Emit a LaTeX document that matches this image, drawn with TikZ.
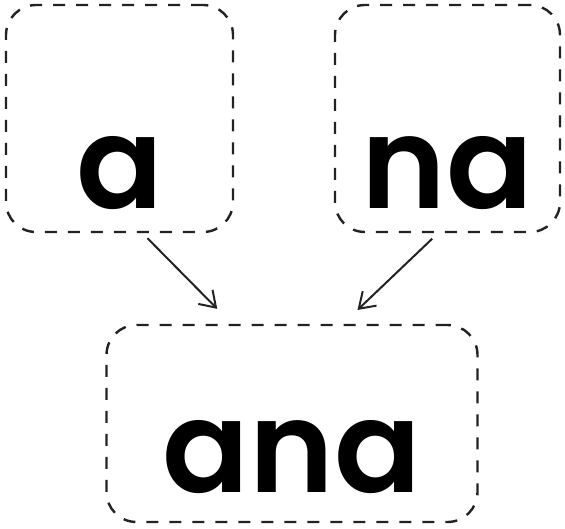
\documentclass[tikz,border=0pt]{standalone}
\usepackage{fontspec}
\setmainfont{Poppins}[UprightFont={* SemiBold}]
\usetikzlibrary{arrows.meta, positioning}
\definecolor{edgegray}{HTML}{222222}
\tikzset{
  piece/.style={rectangle, rounded corners=30pt, draw=edgegray, line width=2.4pt,
                dash pattern=on 12pt off 11pt, font=\fontsize{128}{128}\selectfont,
                text depth=0pt, inner sep=0pt},
  arrow/.style={-{Straight Barb[length=15pt, width=20pt, line width=2pt]}, line width=2pt, edgegray},
}
\begin{document}
\begin{tikzpicture}[x=1pt, y=1pt]
  \useasboundingbox (0,0) rectangle (565,-529);

  % --- Parts ---
  \node[piece, minimum width=227pt, minimum height=227pt, text height=180pt] (left) at (119.5,-118.5) {a};
  \node[piece, minimum width=225pt, minimum height=227pt, text height=180pt, right=99.6pt of left] (right) {na};

  % --- Joined word ---
  \node[piece, minimum width=371pt, minimum height=197pt, text height=137pt] (word) at (292,-423.5) {ana};

  % --- Arrows ---
  \draw[arrow, shorten <=7pt, shorten >=21pt] ([xshift=23pt]left.south) -- ([xshift=-60pt]word.north);
  \draw[arrow, shorten <=8pt, shorten >=20pt] ([xshift=-9.5pt]right.south) -- ([xshift=51pt]word.north);

\end{tikzpicture}
\end{document}
